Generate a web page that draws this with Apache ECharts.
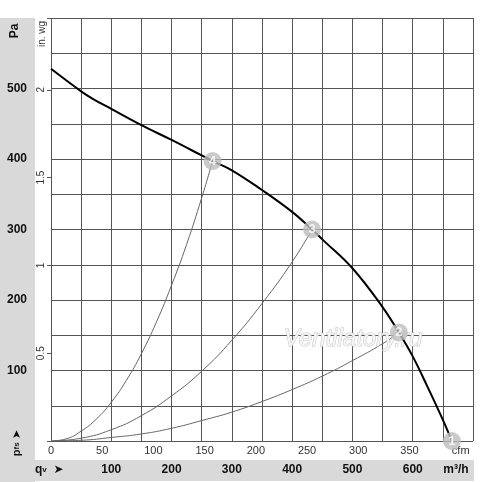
<!DOCTYPE html>
<html>
<head>
<meta charset="utf-8">
<script src="https://cdn.jsdelivr.net/npm/echarts@6.0.0/dist/echarts.min.js"></script>
<style>
  html, body { margin: 0; padding: 0; background: #fff; }
  #main { width: 500px; height: 482px; }
</style>
</head>
<body>
<div id="main"></div>
<script>
// fan curve (m³/h -> Pa)
var fanFlow = [0, 50, 70, 100, 150, 200, 250, 268, 300, 350, 400, 433, 450, 500, 550, 577, 600, 625, 650, 665];
var fanPa   = [528, 496, 485, 471, 448, 427, 405, 397, 384, 356, 325, 300, 286, 245, 190, 154, 120, 76, 30, 0];

// system curves through the operating points
var sys4Flow = [0, 25, 50, 75, 100, 125, 150, 175, 200, 225, 250, 268];
var sys4Pa   = [0, 3, 14, 31, 55, 86, 124, 169, 221, 279, 345, 397];
var sys3Flow = [0, 50, 100, 150, 200, 250, 300, 350, 400, 433];
var sys3Pa   = [0, 4, 16, 36, 64, 99, 143, 195, 254, 300];
var sys2Flow = [0, 50, 100, 150, 200, 250, 300, 350, 400, 450, 500, 550, 577];
var sys2Pa   = [0, 1, 5, 10, 18, 29, 41, 56, 73, 92, 114, 138, 154];

// numbered operating points
var pointNames = ['1', '2', '3', '4'];
var pointFlow  = [665, 577, 433, 268];
var pointPa    = [0, 154, 300, 397];

// axis ranges
var flowMax = 700;          // m³/h
var paMax = 600;            // Pa
var cfmMax = flowMax / 1.699;
var inwgMax = paMax / 249.09;

function pairs(xs, ys) {
  return xs.map(function (x, i) { return [x, ys[i]]; });
}

var chart = echarts.init(document.getElementById('main'));

var gridColor = '#555';
var bandColor = '#d9d9d9';

chart.setOption({
  animation: false,
  grid: { left: 51, right: 27, top: 18, bottom: 41, containLabel: false, outerBoundsMode: 'none' },
  xAxis: [{
    type: 'value', min: 0, max: flowMax, interval: 50,
    axisLine: { show: false }, axisTick: { show: false },
    splitLine: { show: true, lineStyle: { color: gridColor, width: 1 } },
    axisLabel: {
      margin: 23, fontSize: 12, fontWeight: 'bold', color: '#111',
      fontFamily: 'Liberation Sans, Arial, sans-serif',
      formatter: function (v) { return (v % 100 === 0 && v > 0 && v < flowMax) ? String(v) : ''; }
    }
  }, {
    type: 'value', min: 0, max: cfmMax, interval: 50, position: 'bottom',
    axisLine: { show: false }, axisTick: { show: false }, splitLine: { show: false },
    axisLabel: {
      margin: 4, fontSize: 11, color: '#333',
      fontFamily: 'Liberation Sans, Arial, sans-serif',
      formatter: function (v) {
        if (v === 400) return 'cfm';
        return v % 50 === 0 ? String(v) : '';
      }
    }
  }],
  yAxis: [{
    type: 'value', min: 0, max: paMax, interval: 50,
    axisLine: { show: false }, axisTick: { show: false },
    splitLine: { show: true, lineStyle: { color: gridColor, width: 1 } },
    axisLabel: {
      margin: 34, align: 'center', fontSize: 12, fontWeight: 'bold', color: '#111',
      fontFamily: 'Liberation Sans, Arial, sans-serif',
      formatter: function (v) { return (v % 100 === 0 && v > 0 && v < paMax) ? String(v) : ''; }
    }
  }, {
    type: 'value', min: 0, max: inwgMax, interval: 0.5, position: 'left',
    axisLine: { show: false },
    axisTick: { show: true, length: 4, lineStyle: { color: gridColor } },
    splitLine: { show: false },
    axisLabel: {
      margin: 5, rotate: 90, fontSize: 10, color: '#333',
      fontFamily: 'Liberation Sans, Arial, sans-serif',
      formatter: function (v) {
        return (v > 0 && Math.abs(v * 2 - Math.round(v * 2)) < 1e-6) ? String(v) : '';
      }
    }
  }],
  graphic: [
    { type: 'rect', z: -1, shape: { x: 0, y: 18, width: 35, height: 464 }, style: { fill: bandColor } },
    { type: 'rect', z: -1, shape: { x: 35, y: 460, width: 439, height: 21 }, style: { fill: bandColor } },
    { type: 'text', z: 10, x: 15, y: 31, rotation: Math.PI / 2,
      style: { text: 'Pa', font: 'bold 12px Liberation Sans, Arial, sans-serif', fill: '#111', align: 'center', verticalAlign: 'middle' } },
    { type: 'text', z: 10, x: 42, y: 34, rotation: Math.PI / 2,
      style: { text: 'in. wg', font: '10px Liberation Sans, Arial, sans-serif', fill: '#333', align: 'center', verticalAlign: 'middle' } },
    { type: 'text', z: 10, x: 17, y: 443, rotation: Math.PI / 2,
      style: {
        text: '{p|p}{s|fs} {a|➤}', align: 'center', verticalAlign: 'middle',
        rich: {
          p: { font: 'bold 11px Liberation Sans, Arial, sans-serif', fill: '#111' },
          s: { font: 'bold 8px Liberation Sans, Arial, sans-serif', fill: '#111' },
          a: { font: 'bold 11px DejaVu Sans, sans-serif', fill: '#111' }
        }
      } },
    { type: 'text', z: 10, x: 35, y: 470,
      style: {
        text: '{q|q}{v|v}  {a|➤}', align: 'left', verticalAlign: 'middle',
        rich: {
          q: { font: 'bold 12px Liberation Sans, Arial, sans-serif', fill: '#111' },
          v: { font: 'bold 8px Liberation Sans, Arial, sans-serif', fill: '#111' },
          a: { font: 'bold 12px DejaVu Sans, sans-serif', fill: '#111' }
        }
      } },
    { type: 'text', z: 10, x: 456, y: 470,
      style: { text: 'm³/h', font: 'bold 12px Liberation Sans, Arial, sans-serif', fill: '#111', align: 'center', verticalAlign: 'middle' } },
    { type: 'text', z: 3, x: 353, y: 339,
      style: { text: 'Ventilatory.ru', font: 'italic 24px Liberation Sans, Arial, sans-serif',
        fill: '#f6f6f6', stroke: '#c4c4c4', lineWidth: 1, align: 'center', verticalAlign: 'middle' } }
  ],
  series: [{
    type: 'line', name: 'sys4', data: pairs(sys4Flow, sys4Pa), smooth: true, showSymbol: false,
    lineStyle: { color: '#666', width: 1 }, z: 2
  }, {
    type: 'line', name: 'sys3', data: pairs(sys3Flow, sys3Pa), smooth: true, showSymbol: false,
    lineStyle: { color: '#666', width: 1 }, z: 2
  }, {
    type: 'line', name: 'sys2', data: pairs(sys2Flow, sys2Pa), smooth: true, showSymbol: false,
    lineStyle: { color: '#666', width: 1 }, z: 2
  }, {
    type: 'line', name: 'fan', data: pairs(fanFlow, fanPa), smooth: 0.4, showSymbol: false,
    lineStyle: { color: '#000', width: 2 }, z: 4
  }, {
    type: 'scatter', name: 'points', z: 5,
    data: pointFlow.map(function (q, i) { return { value: [q, pointPa[i]], name: pointNames[i] }; }),
    symbolSize: 18,
    itemStyle: { color: '#bdbdbd' },
    label: {
      show: true, position: 'inside', formatter: '{b}',
      color: '#fff', fontWeight: 'bold', fontSize: 13, fontFamily: 'Liberation Sans, Arial, sans-serif'
    }
  }]
});
</script>
</body>
</html>
